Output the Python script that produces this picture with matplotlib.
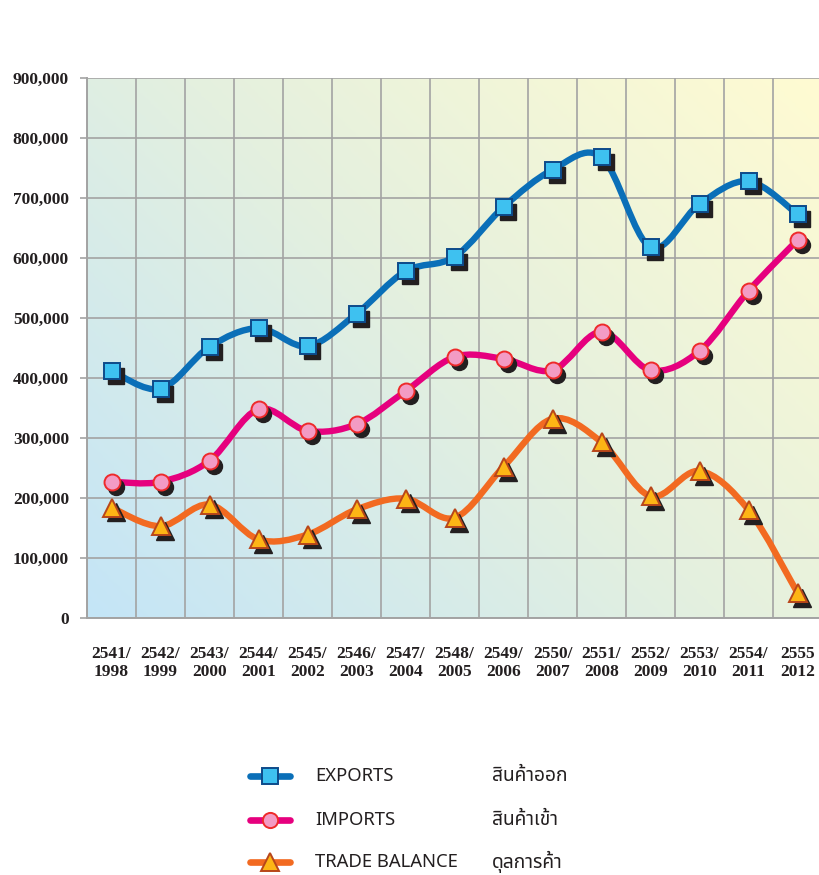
import numpy as np
import matplotlib
matplotlib.use("Agg")
import matplotlib.pyplot as plt
from matplotlib.path import Path
from matplotlib.patches import PathPatch
from matplotlib.lines import Line2D
from matplotlib.colors import LinearSegmentedColormap
from matplotlib.ticker import FuncFormatter
import matplotlib.transforms as mtransforms

# data (million baht)
years_th = ["2541", "2542", "2543", "2544", "2545", "2546", "2547", "2548",
            "2549", "2550", "2551", "2552", "2553", "2554", "2555"]
years_ad = ["1998", "1999", "2000", "2001", "2002", "2003", "2004", "2005",
            "2006", "2007", "2008", "2009", "2010", "2011", "2012"]
exports = [412000, 382000, 452000, 483000, 453000, 507000, 578000, 602000,
           685000, 747000, 768000, 618000, 690000, 728000, 673000]
imports = [227000, 227000, 262000, 348000, 312000, 323000, 378000, 435000,
           432000, 413000, 477000, 413000, 445000, 545000, 630000]
balance = [184000, 153000, 189000, 131000, 139000, 181000, 199000, 167000,
           252000, 332000, 293000, 203000, 245000, 180000, 42000]

series = [
    # label, thai, values, line colour, marker, face, edge, size
    ("EXPORTS", "สินค้าออก", exports, "#0a6fb8", "s", "#3ec1f0", "#0d4a8a", 12),
    ("IMPORTS", "สินค้าเข้า", imports, "#e6007e", "o", "#f39bc4", "#ee2a2a", 11.5),
    ("TRADE BALANCE", "ดุลการค้า", balance, "#f26a21", "^", "#fdb515", "#b8461a", 13),
]

serif = ["Liberation Serif", "DejaVu Serif"]
sans = ["Noto Sans", "Noto Sans Thai", "Sarabun", "Bai Jamjuree", "DejaVu Sans"]
thai = ["Noto Sans Thai", "Sarabun", "Bai Jamjuree", "Athiti", "DejaVu Sans"]

W, H = 819, 875
fig = plt.figure(figsize=(W / 100, H / 100), dpi=100)
ax = fig.add_axes([87 / W, 1 - 618 / H, 735 / W, 540 / H])

n = len(years_th)
ax.set_xlim(-0.5, n - 0.5)
ax.set_ylim(0, 900000)

# diagonal gradient background
cmap = LinearSegmentedColormap.from_list(
    "bg", [(0, "#c4e5f7"), (0.5, "#e4f0df"), (1, "#fffbd2")])
gx, gy = np.meshgrid(np.linspace(0, 1, 200), np.linspace(0, 1, 200))
grad = (gx * 735 + gy * 540) / (735 + 540)
ax.imshow(grad, cmap=cmap, extent=[0, 1, 0, 1], transform=ax.transAxes,
          origin="lower", aspect="auto", zorder=0, interpolation="bilinear")

# grid
ax.set_yticks(np.arange(0, 900001, 100000))
ax.set_xticks(np.arange(n))
ax.set_xticks(np.arange(n) - 0.5, minor=True)
ax.grid(True, which="major", axis="y", color="#a3a3a3", lw=1.2, zorder=1)
ax.grid(True, which="minor", axis="x", color="#a3a3a3", lw=1.2, zorder=1)
ax.set_axisbelow(False)
for s in ["top", "right"]:
    ax.spines[s].set_visible(False)
for s in ["left", "bottom"]:
    ax.spines[s].set_color("#a3a3a3")
    ax.spines[s].set_linewidth(1.4)

ax.yaxis.set_major_formatter(FuncFormatter(lambda v, p: f"{int(v):,}"))
ax.tick_params(axis="y", length=5, width=1.2, color="#a3a3a3", pad=8)
ax.tick_params(axis="x", which="both", length=0, pad=20)
for lab in ax.get_yticklabels():
    lab.set_fontfamily(serif)
    lab.set_fontweight("bold")
    lab.set_fontsize(12.5)
    lab.set_color("#231f20")
ax.set_xticklabels([f"{a}/\n{b}" if i < n - 1 else f"{a}\n{b}"
                    for i, (a, b) in enumerate(zip(years_th, years_ad))],
                   fontfamily=serif, fontweight="bold", fontsize=12.5,
                   color="#231f20", linespacing=1.2)


def smooth_path(xs, ys):
    # Catmull-Rom spline written as cubic Bezier segments
    pts = np.column_stack([xs, ys]).astype(float)
    verts = [pts[0]]
    codes = [Path.MOVETO]
    for i in range(len(pts) - 1):
        p0 = pts[max(i - 1, 0)]
        p1 = pts[i]
        p2 = pts[i + 1]
        p3 = pts[min(i + 2, len(pts) - 1)]
        c1 = p1 + (p2 - p0) / 6
        c2 = p2 - (p3 - p1) / 6
        verts += [c1, c2, p2]
        codes += [Path.CURVE4] * 3
    return Path(verts, codes)


shadow = ax.transData + mtransforms.ScaledTranslation(3.5 / 72, -3.5 / 72, fig.dpi_scale_trans)
x = np.arange(n)
for i, (lab, th, vals, lc, mk, fc, ec, ms) in enumerate(series):
    z = 3 + i * 3
    ax.add_patch(PathPatch(smooth_path(x, vals), fill=False, ec=lc, lw=4.6,
                           capstyle="round", joinstyle="round", zorder=z))
    ax.plot(x, vals, ls="none", marker=mk, ms=ms, mfc="#231f20", mec="#231f20",
            transform=shadow, zorder=z + 0.5, clip_on=False)
    ax.plot(x, vals, ls="none", marker=mk, ms=ms, mfc=fc, mec=ec, mew=1.4,
            zorder=z + 1, clip_on=False)

# legend drawn at the bottom
rows_y = [776, 820, 862]
for (lab, th, vals, lc, mk, fc, ec, ms), yy in zip(series, rows_y):
    yf = 1 - yy / H
    fig.add_artist(Line2D([250 / W, 290 / W], [yf, yf], color=lc, lw=4.8,
                          solid_capstyle="round"))
    fig.add_artist(Line2D([270 / W], [yf], ls="none", marker=mk, ms=ms * 0.95,
                          mfc=fc, mec=ec, mew=1.4))
    fig.text(315 / W, yf, lab, fontfamily=sans, fontsize=13.3, color="#231f20",
             va="center", ha="left")
    fig.text(492 / W, yf, th, fontfamily=thai, fontsize=13.8, color="#231f20",
             va="center", ha="left")

fig.savefig("out.png", dpi=100)
